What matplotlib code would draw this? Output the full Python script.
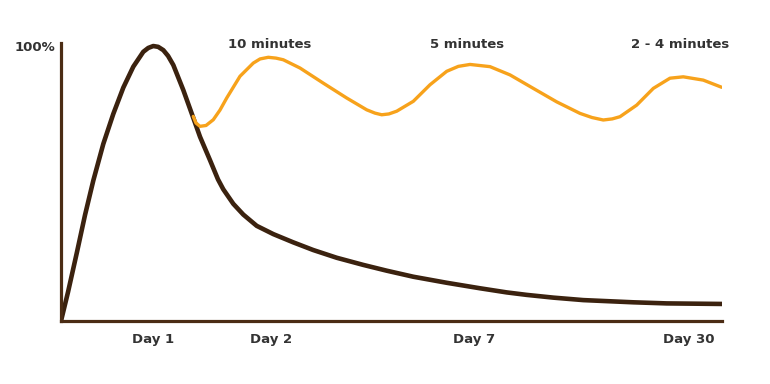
import matplotlib.pyplot as plt

# x = position along the time axis (0-100), y = retention in %
forget_x = [0, 1.06, 2.42, 3.63, 4.89, 6.40, 7.91, 9.43, 10.94, 12.45, 13.2, 13.96, 14.7,
            15.48, 16.2, 16.99, 18.50, 19.77, 21.03, 22.54, 23.75, 24.55, 26.07, 27.58,
            29.61, 32.12, 35.14, 38.17, 41.71, 45.73, 49.27, 53.30, 58.35, 63.39, 67.43,
            70.45, 74.48, 79.02, 86.58, 91.63, 100]
forget_y = [0, 10.5, 25.1, 38.5, 51.1, 64.4, 75.3, 84.9, 92.5, 97.9, 99.3, 100, 99.7,
            98.5, 96.4, 93.1, 84.0, 75.5, 67.0, 58.5, 51.5, 47.9, 42.6, 38.7,
            34.6, 31.6, 28.6, 25.8, 23.0, 20.4, 18.3, 16.1, 13.9, 11.9, 10.4,
            9.5, 8.5, 7.6, 6.8, 6.4, 6.2]

review_x = [20.01, 20.42, 21.03, 21.94, 23.04, 24.05, 25.07, 27.08, 29.09, 30.11, 31.36,
            32.53, 33.63, 36.16, 39.68, 43.22, 46.25, 47.5, 48.52, 49.6, 50.79, 53.30,
            55.82, 58.35, 60.11, 61.88, 64.90, 67.93, 71.45, 74.99, 78.52, 80.33, 82.04,
            83.4, 84.57, 87.09, 89.61, 92.13, 94.14, 97.17, 99.95]
review_y = [74.4, 72.0, 70.8, 71.1, 73.2, 76.7, 81.1, 89.0, 93.8, 95.3, 95.9,
            95.6, 95.0, 92.0, 86.5, 81.1, 76.8, 75.6, 75.0, 75.3, 76.3, 79.9,
            85.9, 90.8, 92.6, 93.3, 92.5, 89.5, 84.6, 79.7, 75.5, 74.0, 73.1,
            73.5, 74.3, 78.5, 84.6, 88.3, 88.8, 87.6, 85.0]

day_pos = [14.0, 31.8, 62.5, 94.9]
day_labels = ["Day 1", "Day 2", "Day 7", "Day 30"]
review_labels = ["10 minutes", "5 minutes", "2 - 4 minutes"]
review_pos = [31.6, 61.4, 93.6]

axis_col = "#4b2c14"
text_col = "#333333"
font = "DejaVu Sans"

fig = plt.figure(figsize=(7.7, 3.84), dpi=100)
ax = fig.add_axes([61/770, 63/384, 661/770, 278/384])

ax.plot(forget_x, forget_y, color="#3b220f", lw=3.3, solid_capstyle="round",
        solid_joinstyle="round", zorder=2)
ax.plot(review_x, review_y, color="#f7a21b", lw=2.4, solid_capstyle="round",
        solid_joinstyle="round", zorder=3)

ax.set_xlim(0, 100)
ax.set_ylim(0, 101.1)

for s in ["top", "right"]:
    ax.spines[s].set_visible(False)
for s in ["left", "bottom"]:
    ax.spines[s].set_color(axis_col)
    ax.spines[s].set_linewidth(2.3)

ax.set_xticks(day_pos)
ax.set_xticklabels(day_labels, fontsize=9.5, fontweight="bold", color=text_col, family=font)
ax.set_yticks([100])
ax.set_yticklabels(["100%"], fontsize=9.5, fontweight="bold", color=text_col, family=font)
ax.tick_params(axis="x", length=0, pad=9)
ax.tick_params(axis="y", length=0, pad=4)

for lab, p in zip(review_labels, review_pos):
    ax.text(p, 100.5, lab, ha="center", va="center", fontsize=9.5, fontweight="bold",
            color=text_col, family=font, clip_on=False)

fig.savefig("out.png", dpi=100)
